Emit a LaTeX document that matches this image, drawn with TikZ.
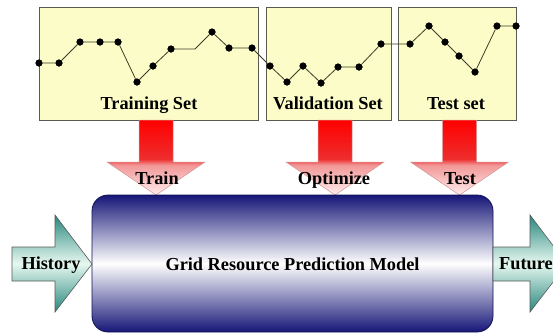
\documentclass[tikz,border=0pt]{standalone}
\usepackage{fontspec}
\setmainfont{Liberation Serif}
\definecolor{boxfill}{RGB}{252,252,200}
\definecolor{boxedge}{RGB}{90,90,80}
\definecolor{navyb}{RGB}{22,22,120}
\definecolor{tealb}{RGB}{40,135,125}
\definecolor{mintb}{RGB}{230,248,240}
\definecolor{lineb}{RGB}{60,60,40}
\definecolor{redout}{RGB}{210,150,150}
\definecolor{pinkb}{RGB}{255,238,238}
\definecolor{redone}{RGB}{238,45,45}
\definecolor{redtwo}{RGB}{242,150,150}
\pgfdeclareverticalshading{redfade}{100bp}{color(0bp)=(pinkb); color(25bp)=(pinkb); color(45bp)=(redtwo); color(49bp)=(redone); color(75bp)=(red); color(100bp)=(red)}
\begin{document}
\begin{tikzpicture}[x=1pt,y=-1pt,
  setbox/.style={draw=boxedge,fill=boxfill,line width=0.9pt,inner sep=0pt},
  lbl/.style={font=\bfseries\fontsize{18.3}{20}\selectfont,anchor=base,inner sep=0pt},
  dot/.style={circle,fill=black,inner sep=0pt,minimum size=7pt},
  redarrow/.style={draw=redout,line width=0.5pt,shading=redfade},
  tealarrow/.style={draw=gray!70!black,line width=0.6pt,top color=tealb,bottom color=tealb,middle color=mintb}]
\useasboundingbox (0,0) rectangle (553,333);
% data set boxes
\node[setbox,minimum width=219pt,minimum height=113pt] (trainbox) at (148.5,63.5) {};
\node[setbox,minimum width=125pt,minimum height=113pt] (valbox) at (328.5,63.5) {};
\node[setbox,minimum width=118pt,minimum height=113pt] (testbox) at (457,63.5) {};
% time series
\foreach \n/\x/\y in {1/39/63,2/59/63,3/80/42,4/100/42,5/118/42,6/137/82,7/153/66,8/171/49,
  9/212/32,10/229/48,11/252/48,12/270/66,13/287/82,14/303/66,15/321/83,16/338/67,17/359/67,
  18/381/44,19/410/44,20/429/26,21/445/42,22/459/56,23/475/72,24/497/26,25/516/26}
  \node[dot] (p\n) at (\x,\y) {};
\coordinate (bend) at (195,49);
\draw[lineb,line width=0.8pt] (p1)--(p2)--(p3)--(p4)--(p5)--(p6)--(p7)--(p8)--(bend)--(p9)--(p10)--(p11)--(p12)--(p13)--(p14)--(p15)--(p16)--(p17)--(p18)--(p19)--(p20)--(p21)--(p22)--(p23)--(p24)--(p25);
\foreach \n in {1,...,25} \node[dot] at (p\n) {};
% red arrows
\foreach \c in {156,335,459.5}
  \draw[redarrow] (\c-17,120) -- (\c+17,120) -- (\c+17,162) -- (\c+49,162) -- (\c,195) -- (\c-49,162) -- (\c-17,162) -- cycle;
% model box
\node[draw=navyb!70!black,line width=0.8pt,rounded corners=16pt,top color=navyb,bottom color=navyb,middle color=white,
  minimum width=401pt,minimum height=137pt,inner sep=0pt] (model) at (292.5,263.5) {};
% teal arrows
\draw[tealarrow] (12,247) -- (55,247) -- (55,215) -- (92,264) -- (55,312) -- (55,281) -- (12,281) -- cycle;
\draw[tealarrow] (493,247) -- (530,247) -- (530,215) -- (567,264) -- (530,312) -- (530,281) -- (493,281) -- cycle;
% labels
\node[lbl] (ltrain) at (149,109) {Training Set};
\node[lbl] (lval) at (328,109) {Validation Set};
\node[lbl] (ltest) at (456,109) {Test set};
\node[lbl] (atrain) at (157,184) {Train};
\node[lbl] (aopt) at (334,184) {Optimize};
\node[lbl] (atest) at (460,184) {Test};
\node[lbl] (lmodel) at (292.5,270) {Grid Resource Prediction Model};
\node[lbl] (lhist) at (51,269) {History};
\node[lbl,anchor=base west] (lfut) at (499,269) {Future};
\end{tikzpicture}
\end{document}
